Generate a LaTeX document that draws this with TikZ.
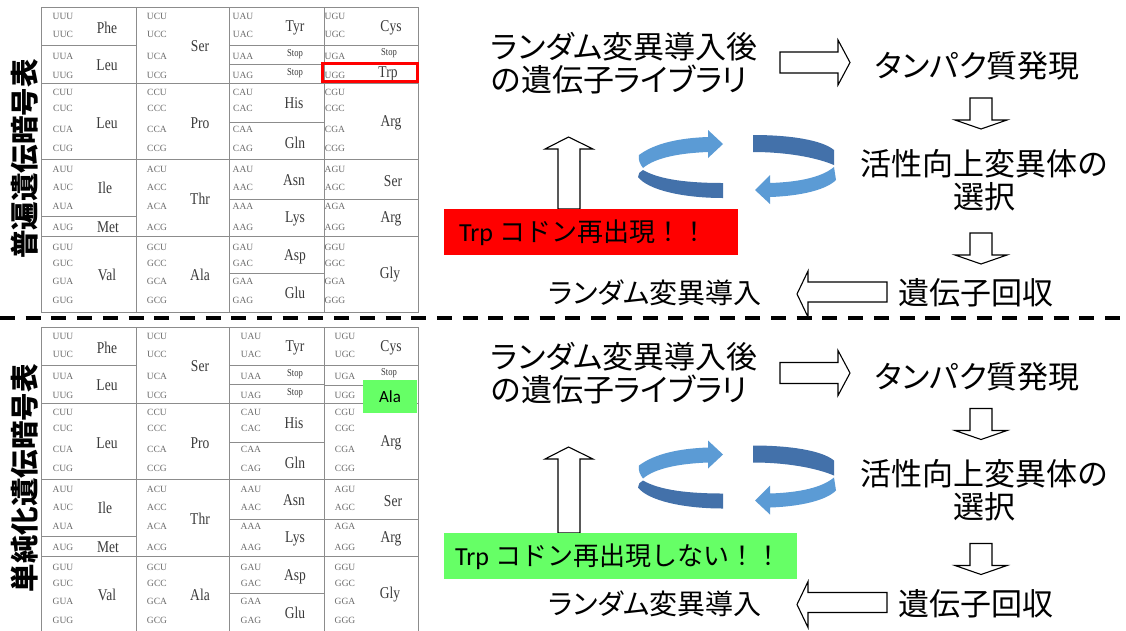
\documentclass[tikz,border=0pt]{standalone}
\usepackage{fontspec}
\setmainfont{Liberation Serif}
\newfontfamily\jp[RawFeature=+palt]{Noto Sans CJK JP}
\newfontfamily\jpn{Noto Sans CJK JP}
\newfontfamily\carl{Carlito}
\definecolor{tgray}{HTML}{8C8C8C}
\definecolor{cgray}{HTML}{6A6A6A}
\definecolor{agray}{HTML}{3A3A3A}
\definecolor{lblue}{HTML}{5B9BD5}
\definecolor{dblue}{HTML}{4371AA}
\definecolor{gbox}{HTML}{66FF66}
\newcommand\amino[1]{\scalebox{0.82}[1]{#1}}
\tikzset{
  tl/.style={draw=tgray, line width=0.9pt},
  cod/.style={font=\fontsize{9.5}{10}\selectfont, text=cgray, inner sep=0pt},
  aa/.style={font=\fontsize{16.5}{17}\selectfont, text=agray, inner sep=0pt},
  stp/.style={font=\fontsize{10.5}{11}\selectfont, text=agray, inner sep=0pt},
  vlabel/.style={font=\jpn\bfseries\fontsize{28.5}{29}\selectfont, inner sep=0pt, rotate=90},
  jtxt/.style={font=\jp\fontsize{31}{33}\selectfont, inner sep=0pt},
  btxt/.style={font=\fontsize{26}{28}\selectfont, inner sep=0pt, anchor=west},
  harrow/.style={draw=black, fill=white, line width=1.1pt, line join=miter},
  lightband/.style={fill=lblue},
  darkband/.style={fill=dblue},
}
\newcommand\codons[4]{%
 \foreach \f [count=\bi from 0] in {U,C,A,G}{%
  \foreach \s/\cx in {U/63,C/157,A/#3,G/#4}{%
   \foreach \t [count=\ri from 0] in {U,C,A,G}{%
    \pgfmathsetmacro\yy{{16,34,56,75,92,108,129,148,169,187,206,227,247,263,281,300}[\bi*4+\ri]+#2}%
    \node[cod] (#1\f\s\t) at (\cx,\yy) {\f\s\t};
 }}}}
\newcommand\gridlines[1]{%
 \draw[tl] (41,7+#1) rectangle (418,312+#1);
 \foreach \xv in {136,229,324} \draw[tl] (\xv,7+#1) -- (\xv,312+#1);
 \foreach \yv in {83,159,236} \draw[tl] (41,\yv+#1) -- (418,\yv+#1);
 \draw[tl] (41,45+#1) -- (136,45+#1);
 \draw[tl] (229,45+#1) -- (418,45+#1);
 \draw[tl] (229,64+#1) -- (324,64+#1);
 \draw[tl] (229,122+#1) -- (324,122+#1);
 \draw[tl] (41,216+#1) -- (136,216+#1);
 \draw[tl] (229,199+#1) -- (418,199+#1);
 \draw[tl] (229,273+#1) -- (324,273+#1);
}
\newcommand\aminos[2]{%
 \foreach \nm/\xa/\ya/\tx in {phe/107/27.5/Phe, leuA/107/65/Leu, serA/200/46.5/Ser, tyr/295/27.5/Tyr, cys/391/27.5/Cys, leuB/107/123/Leu, pro/200/123/Pro, his/294/103/His, gln/295/143/Gln, argA/391/123/Arg, ile/105/188/Ile, met/108/227/Met, thr/200/199/Thr, asn/294/180/Asn, lys/295/219/Lys, serB/393/181/Ser, argB/391/219/Arg, val/107/275/Val, ala/200/275/Ala, asp/295/257/Asp, glu/295/293/Glu, gly/390/275/Gly}
  \node[aa] (#1\nm) at (\xa,\ya+#2) {\amino{\tx}};
 \foreach \nm/\xa/\ya in {stopA/295/54, stopB/295/73, stopC/389/53}
  \node[stp] (#1\nm) at (\xa,\ya+#2) {\amino{Stop}};
}
\newcommand\flow[1]{%
 \node[jtxt, anchor=west, align=left] (#1lib) at (491,63) {ランダム変異導入後\\の遺伝子ライブラリ};
 \node[jtxt] (#1exp) at (977.5,66) {タンパク質発現};
 \node[jtxt, align=center] (#1sel) at (984,180) {活性向上変異体の\\選択};
 \node[jtxt] (#1rec) at (975.5,293) {遺伝子回収};
 \node[jtxt, font=\jp\fontsize{28}{30}\selectfont] (#1mut) at (655,293) {ランダム変異導入};
 \draw[harrow] (780,52) -- (838,52) -- (838,40) -- (850,62.5) -- (838,85) -- (838,73) -- (780,73) -- cycle;
 \foreach \yb in {98,233}
  \draw[harrow] (970,\yb) -- (992,\yb) -- (992,\yb+22) -- (1007,\yb+22) -- (981,\yb+31) -- (955,\yb+22) -- (970,\yb+22) -- cycle;
 \draw[harrow] (887,282) -- (808,282) -- (808,271) -- (797,294) -- (808,317) -- (808,302) -- (887,302) -- cycle;
 % circular arrows
 \fill[lightband] (639,155) .. controls (655,143) and (680,138) .. (708,137) -- (708,130) -- (723,144) -- (708,158) -- (708,152) .. controls (682,153) and (656,157) .. (643,168) .. controls (640,164) and (638,160) .. (639,155) -- cycle;
 \fill[darkband] (643,170) .. controls (660,180) and (690,183) .. (723,183) -- (723,198) .. controls (683,198) and (648,190) .. (638,177) .. controls (638,174) and (640,171) .. (643,170) -- cycle;
 \fill[darkband] (753,135) .. controls (790,135) and (822,140) .. (834,150) -- (834,165) .. controls (815,157) and (785,152) .. (753,152) -- cycle;
 \fill[lightband] (834,167) .. controls (822,177) and (800,182) .. (770,183) -- (770,175) -- (755,190) -- (770,204) -- (770,197) .. controls (800,196) and (826,190) .. (836,180) -- cycle;
}
\begin{document}
\begin{tikzpicture}[x=1pt,y=-1pt]
\useasboundingbox (0,0) rectangle (1126,630);
\fill[white] (0,0) rectangle (1126,630);

% ---------- top table ----------
\gridlines{0}
\codons{t}{0}{243}{335}
\aminos{t}{0}
\node[aa] (tTrp) at (388,74) {\amino{Trp}};
\draw[red, line width=2.6pt] (322.3,63.3) rectangle (417.3,81.7);
\node[vlabel] (ttl1) at (25,159) {普遍遺伝暗号表};

% ---------- bottom table ----------
\gridlines{320}
\draw[tl] (324,385) -- (363,385);
\codons{b}{320}{251}{345}
\aminos{b}{320}
\node[fill=gbox, minimum width=54pt, minimum height=33pt, inner sep=0pt, font=\carl\fontsize{17}{18}\selectfont] (bAla) at (390,396.5) {Ala};
\node[vlabel] (ttl2) at (25,478) {単純化遺伝暗号表};

% ---------- separator ----------
\coordinate (sepL) at (0,318);
\coordinate (sepR) at (1126,318);
\draw[line width=4pt, dash pattern=on 15pt off 10.7pt] (sepL) -- (sepR);

% ---------- top flow ----------
\flow{u}
\draw[harrow] (558,209) -- (558,149) -- (545,149) -- (568.5,137) -- (593,149) -- (580,149) -- (580,209) -- cycle;
\node[fill=red, minimum width=294pt, minimum height=46pt, inner sep=0pt, anchor=north west] (rbox) at (444,209) {};
\node[btxt] (rtext) at (459,233) {{\carl Trp}~{\jpn コドン再出現！！}};

% ---------- bottom flow ----------
\begin{scope}[yshift=-310.5pt]
\flow{d}
\end{scope}
\draw[harrow] (558,533) -- (558,459) -- (545,459) -- (568.5,447) -- (593,459) -- (580,459) -- (580,533) -- cycle;
\node[fill=gbox, minimum width=353pt, minimum height=46pt, inner sep=0pt, anchor=north west] (gbox) at (444,533) {};
\node[btxt] (gtext) at (455,557) {{\carl Trp}~{\jpn コドン再出現しない！！}};
\end{tikzpicture}
\end{document}
